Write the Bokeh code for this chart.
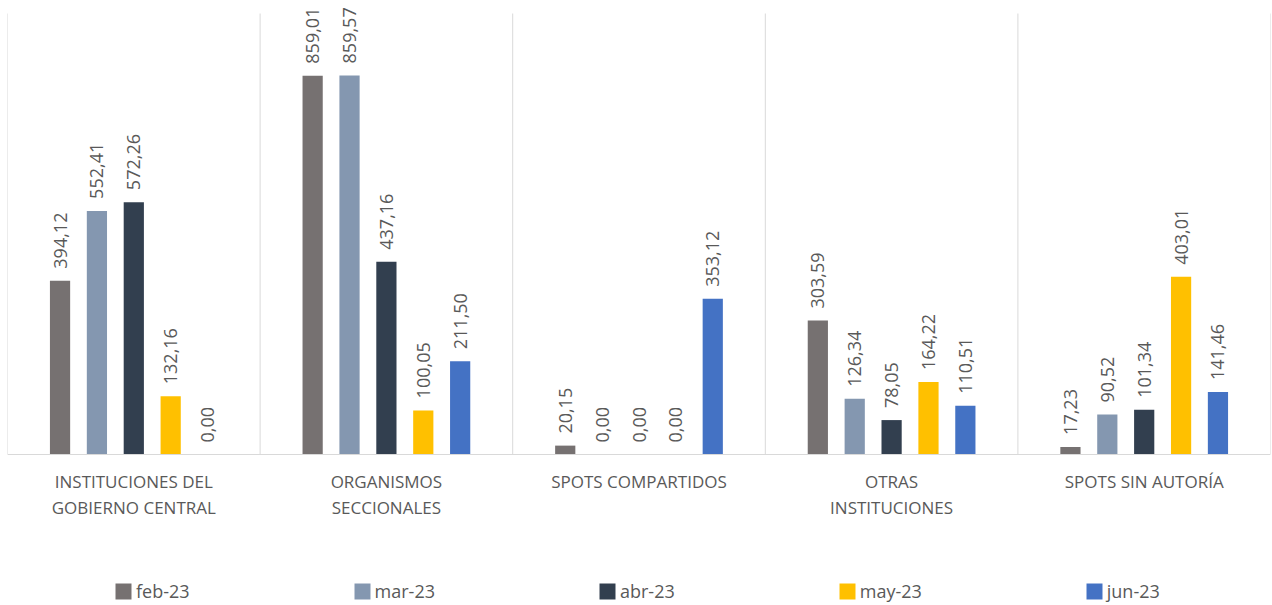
from bokeh.plotting import figure
from bokeh.models import Range1d, ColumnDataSource, Legend, LegendItem, Span
from bokeh.transform import dodge
from bokeh.core.properties import value
from bokeh.embed import file_html
from bokeh.resources import INLINE
import math

categories = ["INSTITUCIONES DEL\nGOBIERNO CENTRAL", "ORGANISMOS\nSECCIONALES",
              "SPOTS COMPARTIDOS", "OTRAS\nINSTITUCIONES", "SPOTS SIN AUTORÍA"]
series = ["feb-23", "mar-23", "abr-23", "may-23", "jun-23"]
feb = [394.12, 859.01, 20.15, 303.59, 17.23]
mar = [552.41, 859.57, 0.00, 126.34, 90.52]
abr = [572.26, 437.16, 0.00, 78.05, 101.34]
may = [132.16, 100.05, 0.00, 164.22, 403.01]
jun = [0.00, 211.50, 353.12, 110.51, 141.46]
colors = ["#767171", "#8497B0", "#323F4F", "#FFC000", "#4472C4"]

values = [feb, mar, abr, may, jun]
n = len(categories)
xs = [i + 0.5 for i in range(n)]
ymax = 1000

p = figure(width=1272, height=605, output_backend="svg", toolbar_location=None,
           x_range=Range1d(0, n), y_range=Range1d(-342.4, 1029.5),
           min_border_left=7, min_border_right=2, min_border_top=0, min_border_bottom=0)
p.outline_line_color = None
p.background_fill_color = "white"
p.border_fill_color = "white"
p.xaxis.visible = False
p.yaxis.visible = False
p.xgrid.visible = False
p.ygrid.visible = False

font = "Open Sans"
txt = "#595959"

# category separators and baseline
sep = list(range(n + 1))
p.segment(x0=sep, y0=[0] * len(sep), x1=sep, y1=[ymax] * len(sep),
          line_color="#D9D9D9", line_width=1)
p.add_layout(Span(location=0, dimension="width", line_color="#D9D9D9", line_width=1))

offsets = [-0.292, -0.146, 0.0, 0.146, 0.292]
items = []
for name, vals, col, off in zip(series, values, colors, offsets):
    src = ColumnDataSource(dict(x=xs, top=vals,
                                lab=[f"{v:.2f}".replace(".", ",") for v in vals]))
    r = p.vbar(x=dodge("x", off, range=p.x_range), top="top", width=0.08, source=src,
               fill_color=col, line_color=None)
    p.text(x=dodge("x", off, range=p.x_range), y="top", text="lab", source=src,
           angle=math.pi / 2, text_align="left", text_baseline="middle",
           y_offset=-12, text_font=value(font), text_font_size="18px", text_color=txt)
    items.append(LegendItem(label=name, renderers=[r]))

# category labels
csrc = ColumnDataSource(dict(x=xs, y=[0] * n, lab=categories))
p.text(x="x", y="y", text="lab", source=csrc, y_offset=15, text_align="center",
       text_baseline="top", text_font=value(font), text_font_size="17px",
       text_color=txt, text_line_height=1.15)

legend = Legend(items=items, orientation="horizontal", location=(106, 2),
                glyph_width=20, glyph_height=20, label_standoff=3, spacing=162,
                padding=0, margin=0, border_line_color=None, background_fill_alpha=0,
                label_text_font=font, label_text_font_size="18px", label_text_color=txt)
p.add_layout(legend, "center")

open("out.html", "w").write(file_html(p, INLINE))
